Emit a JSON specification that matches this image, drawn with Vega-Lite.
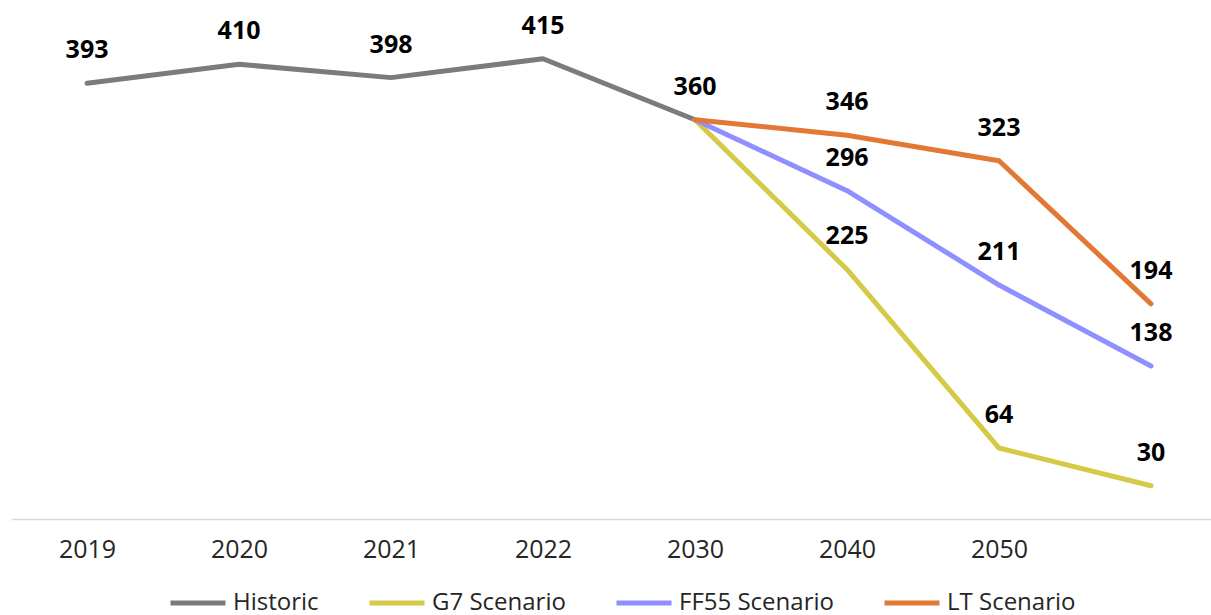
{
  "$schema": "https://vega.github.io/schema/vega-lite/v6.json",
  "width": 1200,
  "height": 519,
  "autosize": "none",
  "padding": {"left": 11, "top": 0, "right": 0, "bottom": 96},
  "background": "white",
  "config": {"view": {"stroke": null}, "font": "Open Sans"},
  "data": {"values": [
    {"year": "2019", "series": "Historic", "value": 393},
    {"year": "2020", "series": "Historic", "value": 410},
    {"year": "2021", "series": "Historic", "value": 398},
    {"year": "2022", "series": "Historic", "value": 415},
    {"year": "2030", "series": "Historic", "value": 360},
    {"year": "2030", "series": "G7 Scenario", "value": 360},
    {"year": "2040", "series": "G7 Scenario", "value": 225},
    {"year": "2050", "series": "G7 Scenario", "value": 64},
    {"year": "2060", "series": "G7 Scenario", "value": 30},
    {"year": "2030", "series": "FF55 Scenario", "value": 360},
    {"year": "2040", "series": "FF55 Scenario", "value": 296},
    {"year": "2050", "series": "FF55 Scenario", "value": 211},
    {"year": "2060", "series": "FF55 Scenario", "value": 138},
    {"year": "2030", "series": "LT Scenario", "value": 360},
    {"year": "2040", "series": "LT Scenario", "value": 346},
    {"year": "2050", "series": "LT Scenario", "value": 323},
    {"year": "2060", "series": "LT Scenario", "value": 194}
  ]},
  "encoding": {
    "x": {
      "field": "year", "type": "ordinal",
      "sort": ["2019", "2020", "2021", "2022", "2030", "2040", "2050", "2060"],
      "scale": {"type": "point", "padding": 0.4475, "align": 0.559},
      "axis": {
        "title": null, "ticks": false, "grid": false,
        "domain": true, "domainColor": "#d9d9d9", "domainWidth": 1.5,
        "labelFontSize": 25, "labelColor": "#262626", "labelPadding": 18,
        "labelAngle": 0,
        "labelExpr": "datum.label == '2060' ? '' : datum.label"
      }
    },
    "y": {
      "field": "value", "type": "quantitative",
      "scale": {"domain": [0, 468], "nice": false},
      "axis": null
    }
  },
  "layer": [
    {
      "mark": {"type": "line", "strokeWidth": 5, "strokeCap": "round", "strokeJoin": "round"},
      "encoding": {
        "color": {
          "field": "series", "type": "nominal",
          "sort": ["Historic", "G7 Scenario", "FF55 Scenario", "LT Scenario"],
          "scale": {
            "domain": ["Historic", "G7 Scenario", "FF55 Scenario", "LT Scenario"],
            "range": ["#7b7b7b", "#d4ca45", "#8f8fff", "#e37835"]
          },
          "legend": {
            "title": null, "orient": "none", "legendX": 157, "legendY": 573,
            "direction": "horizontal", "columns": 4, "columnPadding": 40,
            "symbolType": "stroke", "symbolSize": 3025, "symbolStrokeWidth": 5,
            "labelFontSize": 24, "labelColor": "#262626", "labelOffset": 5
          }
        }
      }
    },
    {
      "transform": [{"filter": "datum.series == 'Historic' || datum.year != '2030'"}],
      "mark": {"type": "text", "fontWeight": "bold", "fontSize": 25, "dy": -33, "baseline": "middle", "color": "black"},
      "encoding": {"text": {"field": "value", "type": "quantitative"}}
    }
  ]
}
